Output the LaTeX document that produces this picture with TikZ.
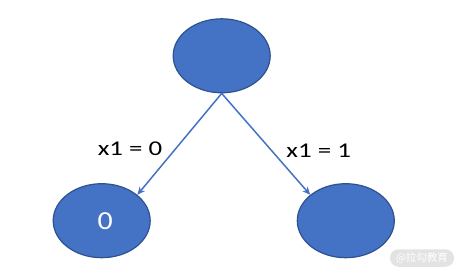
\documentclass[tikz,border=0pt]{standalone}
\usepackage{fontspec}
\usepackage{graphicx}
\setmainfont[Numbers=Lining]{Carlito}
\newfontfamily\cjk{Noto Sans CJK SC}
\usetikzlibrary{shapes.geometric,arrows.meta}
\definecolor{nodefill}{HTML}{4472C4}
\definecolor{nodeline}{HTML}{2F528F}
\definecolor{wmgray}{HTML}{E3E3E3}
\begin{document}
\begin{tikzpicture}[x=1pt,y=-1pt,
  leaf/.style={ellipse,draw=nodeline,line width=1.2pt,fill=nodefill,minimum width=97pt,minimum height=74pt,inner sep=0pt},
  conn/.style={draw=nodefill,line width=1.5pt,-{Stealth[length=8pt,width=7pt]}},
  lbl/.style={font=\fontsize{21}{21}\selectfont,text=black,inner sep=0pt}]
\useasboundingbox (0,0) rectangle (461,273);
\node[leaf] (root) at (221.7,55.8) {};
\node[leaf] (left) at (101.7,220.7) {};
\node[text=white,font=\fontsize{26}{26}\selectfont,inner sep=0pt] (zero) at (105.3,221) {\scalebox{1.15}[1]{0}};
\node[leaf] (right) at (345.8,220.7) {};
\draw[conn] (root.south) -- (left.36);
\draw[conn] (root.south) -- (right.144);
\node[lbl] (l0) at (130,148.7) {\scalebox{1.28}[1]{x1 = 0}};
\node[lbl] (l1) at (318.7,150.7) {\scalebox{1.28}[1]{x1 = 1}};
\node[fill=wmgray,rounded corners=8.5pt,minimum width=64pt,minimum height=17.5pt,inner sep=0pt,text=white,font=\cjk\fontsize{10.5}{10.5}\selectfont] (wm) at (422,258) {@拉勾教育};
\end{tikzpicture}
\end{document}
